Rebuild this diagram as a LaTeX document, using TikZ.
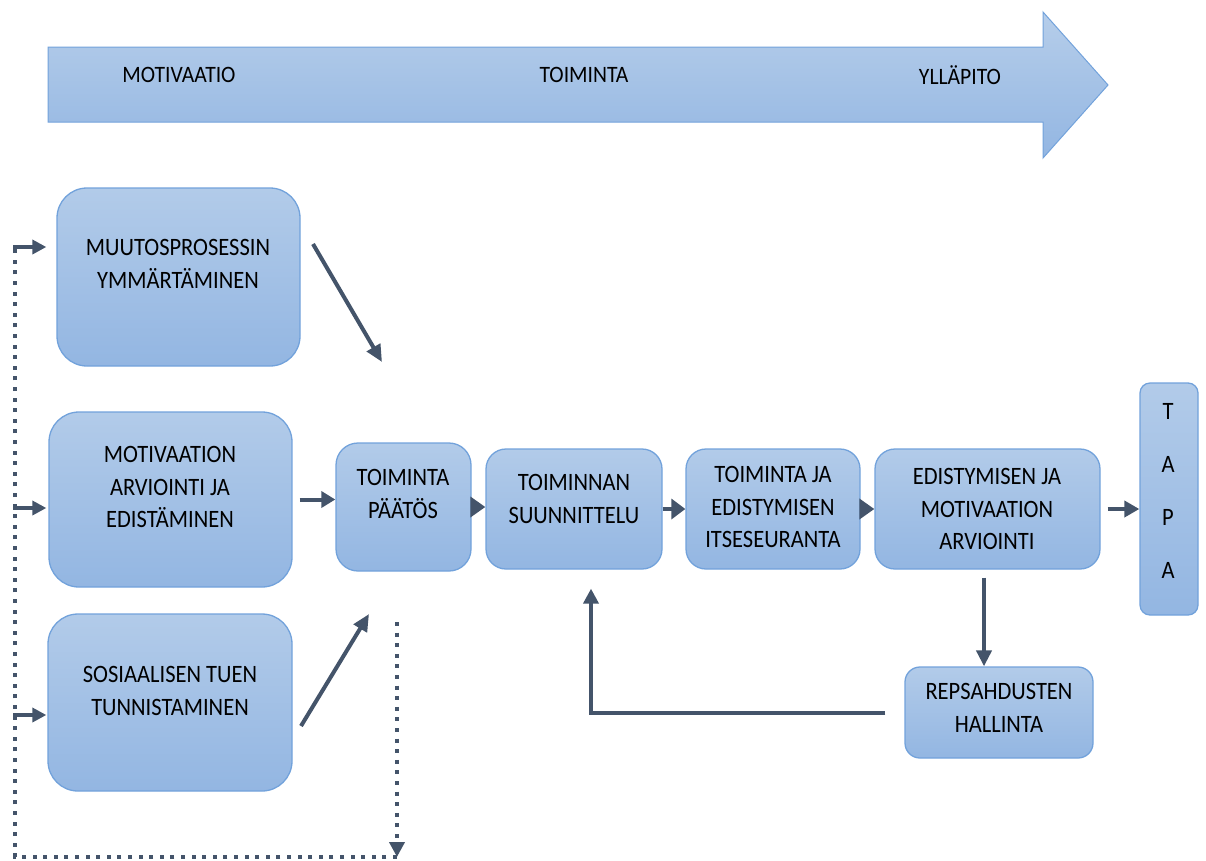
\documentclass[tikz,border=0pt]{standalone}
\usepackage{fontspec}
\setmainfont{Carlito}
\newfontfamily\boxfont{Carlito}[FakeStretch=0.9]
\newfontfamily\headfont{Carlito}[FakeStretch=0.92]
\usetikzlibrary{arrows.meta,calc}
\definecolor{conncol}{HTML}{44546A}
\definecolor{boxtop}{HTML}{B2CBE9}
\definecolor{boxbot}{HTML}{93B6E2}
\definecolor{boxline}{HTML}{72A2DB}
\tikzset{
  box/.style={draw=boxline, line width=1.3pt, top color=boxtop, bottom color=boxbot, inner sep=0pt},
  btext/.style={font=\boxfont\fontsize{25}{32.5}\selectfont, align=center, inner sep=0pt, text=black},
  htext/.style={font=\headfont\fontsize{23.5}{26}\selectfont, inner sep=0pt, text=black},
  conn/.style={draw=conncol, line width=4pt},
  dots/.style={draw=conncol, line width=4.2pt, dash pattern=on 4pt off 6.6pt},
}
\begin{document}
\begin{tikzpicture}[x=1pt,y=-1pt]
\useasboundingbox (0,0) rectangle (1206,860);
% big arrow
\path[draw=boxline, line width=1pt, top color=boxtop!95!white, bottom color=boxbot]
  (48,47) -- (1043,47) -- (1043,12) -- (1108,85) -- (1043,158) -- (1043,122) -- (48,122) -- cycle;
\node[htext] (h1) at (179,75) {MOTIVAATIO};
\node[htext] (h2) at (584,75) {TOIMINTA};
\node[htext] (h3) at (960,75) {YLLÄPITO};
% boxes
\node[box, minimum width=243pt, minimum height=178pt, rounded corners=30pt] (muutos) at (178.5,277) {};
\node[box, minimum width=243pt, minimum height=175pt, rounded corners=30pt] (motiv) at (170.5,499.5) {};
\node[box, minimum width=244pt, minimum height=177pt, rounded corners=30pt] (sosi) at (170,702.5) {};
\node[box, minimum width=135pt, minimum height=128pt, rounded corners=22pt] (paatos) at (403.5,507) {};
\node[box, minimum width=176pt, minimum height=120pt, rounded corners=20pt] (suunn) at (574,509) {};
\node[box, minimum width=174pt, minimum height=120pt, rounded corners=20pt] (itse) at (773,509) {};
\node[box, minimum width=225pt, minimum height=120pt, rounded corners=20pt] (edist) at (987.5,509) {};
\node[box, minimum width=58pt, minimum height=232pt, rounded corners=10pt] (tapa) at (1169,499) {};
\node[box, minimum width=188pt, minimum height=91pt, rounded corners=15pt] (reps) at (999,712.5) {};
% texts
\node[btext] (t1) at (178,264) {MUUTOSPROSESSIN\\YMMÄRTÄMINEN};
\node[btext] (t2) at (170,487) {MOTIVAATION\\ARVIOINTI JA\\EDISTÄMINEN};
\node[btext] (t3) at (170,691) {SOSIAALISEN TUEN\\TUNNISTAMINEN};
\node[btext] (t4) at (403,494) {TOIMINTA\\PÄÄTÖS};
\node[btext] (t5) at (574,499) {TOIMINNAN\\SUUNNITTELU};
\node[btext] (t6) at (773,507) {TOIMINTA JA\\EDISTYMISEN\\ITSESEURANTA};
\node[btext] (t7) at (987,509) {EDISTYMISEN JA\\MOTIVAATION\\ARVIOINTI};
\node[btext, font=\boxfont\fontsize{25}{52.7}\selectfont] (t8) at (1168,491) {T\\A\\P\\A};
\node[btext] (t9) at (999,708) {REPSAHDUSTEN\\HALLINTA};
% connectors in row
\draw[conn, -{Triangle[length=15pt,width=20pt]}] (paatos.east) -- (paatos.east -| suunn.west);
\draw[conn, -{Triangle[length=14pt,width=20pt]}] (suunn.east) -- (suunn.east -| itse.west);
\draw[conn, -{Triangle[length=15pt,width=20pt]}] (itse.east) -- (itse.east -| edist.west);
\draw[conn, shorten <=7pt, -{Triangle[length=14pt,width=16pt]}] (motiv.east) -- (motiv.east -| paatos.west);
\draw[conn, shorten <=7pt, -{Triangle[length=15pt,width=16pt]}] (edist.east) -- (edist.east -| tapa.west);
\draw[conn, shorten <=8pt, -{Triangle[length=16pt,width=15pt]}] ([xshift=-3.5pt]edist.south) -- ([xshift=-3.5pt]edist.south |- reps.north);
\draw[conn, shorten <=19pt, shorten >=19pt, -{Triangle[length=15pt,width=15pt]}] (reps.west) -| ([xshift=17pt]suunn.south);
% diagonal arrows
\coordinate (m1) at (313,244);
\coordinate (m2) at (382,362);
\coordinate (s1) at (301,726);
\coordinate (s2) at (369,614);
\draw[conn, -{Triangle[length=17pt,width=15pt]}] (m1) -- (m2);
\draw[conn, -{Triangle[length=17pt,width=15pt]}] (s1) -- (s2);
% left feedback loop
\coordinate (lt) at (13,247);
\coordinate (lm) at (13,508);
\coordinate (lb) at (13,715);
\coordinate (d1) at (397,622);
\coordinate (d2) at (397,857);
\coordinate (d3) at (15,857);
\coordinate (d4) at (15,247);
\draw[dots, -{Triangle[length=15pt,width=15pt,sep=0pt]}] (d1) -- (d2);
\draw[dots] (d2) -- (d3) -- (d4);
\draw[conn, shorten >=10pt, -{Triangle[length=14pt,width=14pt]}] (lt) -- (lt -| muutos.west);
\draw[conn, shorten >=2pt, -{Triangle[length=14pt,width=14pt]}] (lm) -- (lm -| motiv.west);
\draw[conn, shorten >=1pt, -{Triangle[length=14pt,width=14pt]}] (lb) -- (lb -| sosi.west);
\end{tikzpicture}
\end{document}
